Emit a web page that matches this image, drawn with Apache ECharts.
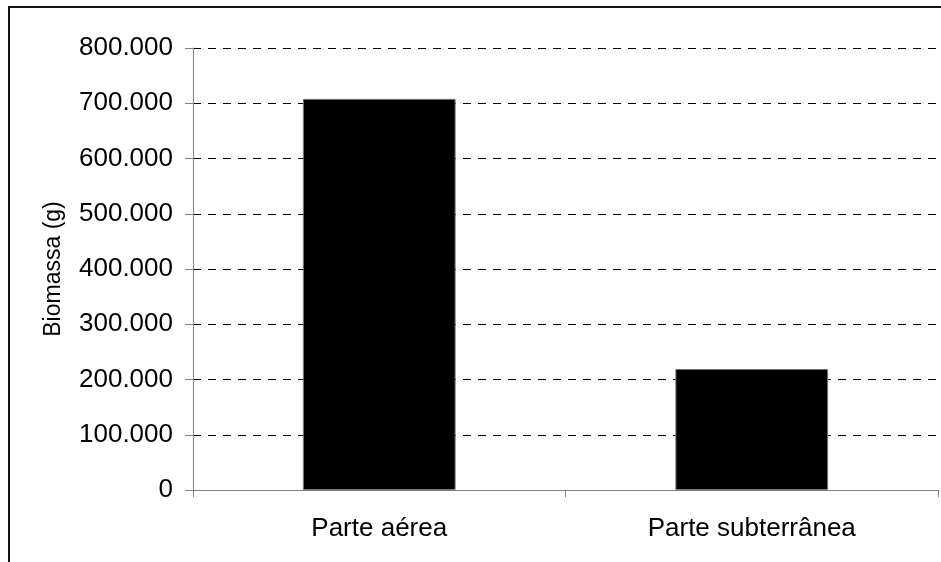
<!DOCTYPE html>
<html>
<head>
<meta charset="utf-8">
<script src="https://cdn.jsdelivr.net/npm/echarts@6/dist/echarts.min.js"></script>
<style>
html,body{margin:0;padding:0;background:#fff;}
#chart{width:941px;height:562px;}
</style>
</head>
<body>
<div id="chart"></div>
<script>
const categories = ['Parte aérea', 'Parte subterrânea'];
const biomass = [708000, 219000];
const yAxisTitle = 'Biomassa (g)';

function fmt(v) {
  return String(Math.round(v)).replace(/\B(?=(\d{3})+(?!\d))/g, '.');
}

const chart = echarts.init(document.getElementById('chart'), null, {renderer: 'canvas'});
chart.setOption({
  animation: false,
  backgroundColor: '#fff',
  textStyle: {fontFamily: 'Liberation Sans, Arial, sans-serif'},
  graphic: [{
    type: 'rect',
    shape: {x: 9, y: 7, width: 1100, height: 1100},
    style: {fill: 'none', stroke: '#111', lineWidth: 2},
    silent: true, z: 100
  }],
  grid: {left: 193, right: 3, top: 48, bottom: 72, containLabel: false},
  xAxis: {
    type: 'category',
    data: categories,
    axisLine: {lineStyle: {color: '#808080', width: 1}},
    axisTick: {show: true, alignWithLabel: false, length: 7, lineStyle: {color: '#808080'}},
    axisLabel: {color: '#000', fontSize: 26, margin: 26, fontFamily: 'Liberation Sans'},
    splitLine: {show: false}
  },
  yAxis: {
    type: 'value',
    min: 0, max: 800000, interval: 100000,
    name: yAxisTitle,
    nameLocation: 'middle',
    nameGap: 128,
    nameRotate: 90,
    nameTextStyle: {color: '#000', fontSize: 23, fontFamily: 'Liberation Sans'},
    axisLine: {show: true, lineStyle: {color: '#808080', width: 1}},
    axisTick: {show: true, length: 8, lineStyle: {color: '#808080'}},
    axisLabel: {color: '#000', fontSize: 26, margin: 20, formatter: fmt, fontFamily: 'Liberation Sans'},
    splitLine: {show: true, lineStyle: {color: '#000', width: 1, type: [8, 7]}}
  },
  series: [{
    type: 'bar',
    data: biomass,
    barWidth: '41%',
    itemStyle: {color: '#000', borderColor: '#777', borderWidth: 1}
  }]
});
</script>
</body>
</html>
